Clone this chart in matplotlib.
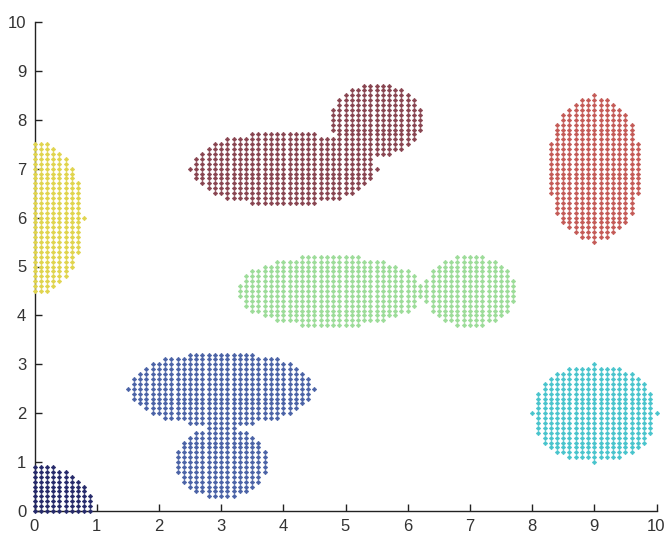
import numpy as np
import matplotlib
matplotlib.use("Agg")
import matplotlib.pyplot as plt

# Cluster shapes: each cluster is a union of ellipses sampled on a 0.1 grid
cluster_names = ["navy", "blue", "yellow", "brown", "red", "green", "cyan"]
cluster_colors = ["#25296a", "#4a62a6", "#e0d44c", "#884450", "#c45a56", "#9cdc98", "#48c4cc"]

ellipse_cluster = [0, 1, 1, 2, 3, 3, 4, 5, 5, 6]
ellipse_cx = [0.0, 3.0, 3.0, 0.0, 4.0, 5.5, 9.0, 4.75, 7.0, 9.0]
ellipse_cy = [0.0, 2.5, 1.0, 6.0, 7.0, 8.0, 7.0, 4.5, 4.5, 2.0]
ellipse_rx = [0.95, 1.5, 0.75, 0.8, 1.5, 0.75, 0.75, 1.5, 0.75, 1.0]
ellipse_ry = [0.95, 0.75, 0.75, 1.55, 0.75, 0.75, 1.5, 0.75, 0.75, 1.0]

grid_step = 0.1
x_ticks = list(range(0, 11))
y_ticks = list(range(0, 11))

gv = np.round(np.arange(0, 10 + 1e-9, grid_step), 2)
GX, GY = np.meshgrid(gv, gv)
GX = GX.ravel(); GY = GY.ravel()

W, H = 667, 535
fig = plt.figure(figsize=(W/100, H/100), dpi=100)
left, right, top, bottom = 34.5, 656.5, 22, 511
ax = fig.add_axes([left/W, 1 - bottom/H, (right-left)/W, (bottom-top)/H])

for ci, col in enumerate(cluster_colors):
    mask = np.zeros_like(GX, dtype=bool)
    for e, c in enumerate(ellipse_cluster):
        if c != ci:
            continue
        d = ((GX - ellipse_cx[e]) / ellipse_rx[e])**2 + ((GY - ellipse_cy[e]) / ellipse_ry[e])**2
        mask |= d <= 1 + 1e-9
    ax.plot(GX[mask], GY[mask], linestyle='none', marker='D', markersize=2.3,
            markerfacecolor=col, markeredgecolor=col, markeredgewidth=0.4,
            clip_on=False, zorder=3)

ax.set_xlim(0, 10)
ax.set_ylim(0, 10)
ax.set_xticks(x_ticks)
ax.set_yticks(y_ticks)
for s in ['top', 'right']:
    ax.spines[s].set_visible(False)
for s in ['left', 'bottom']:
    ax.spines[s].set_color('#222222')
    ax.spines[s].set_linewidth(1.0)
ax.tick_params(direction='in', length=5, width=1, color='#222222',
               labelsize=12, labelcolor='#333333', pad=6)
for lbl in ax.get_xticklabels() + ax.get_yticklabels():
    lbl.set_fontfamily('Liberation Sans')

fig.savefig("out.png", dpi=100)
